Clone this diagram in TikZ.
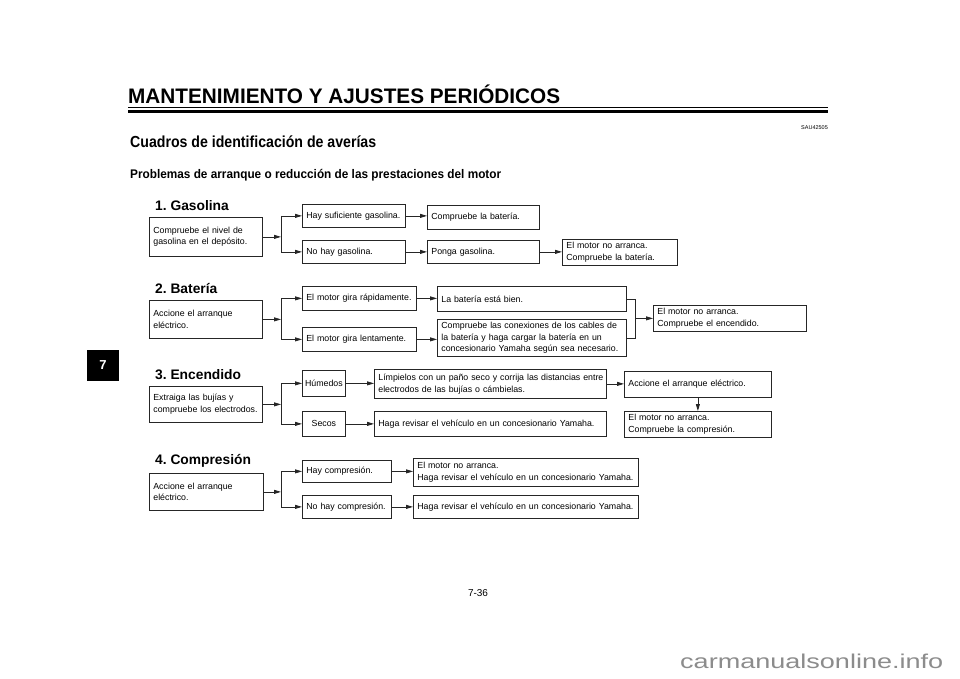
\documentclass[tikz,border=0pt]{standalone}
\usepackage{graphicx}
\usepackage{fontspec}
\setmainfont{Liberation Sans}
\usetikzlibrary{arrows.meta}
\newcommand{\bfnt}{\fontsize{8.8}{11.6}\selectfont}
\newcommand{\ml}[1]{\mbox{#1}}
\frenchspacing
\hyphenpenalty=10000
\begin{document}
\begin{tikzpicture}[x=1pt,y=-1pt,
  box/.style={draw=black!85, line width=0.75pt, anchor=north west, inner xsep=4pt, inner ysep=0pt, align=left, font=\bfnt},
  cbox/.style={box, inner xsep=2pt, align=center},
  ln/.style={draw=black!85, line width=0.75pt},
  arr/.style={ln, -{Triangle[length=7pt,width=4pt]}},
  sec/.style={anchor=base west, inner sep=0pt, font=\fontsize{13.8}{14}\selectfont\bfseries},
  hd/.style={anchor=base west, inner sep=0pt},
]
\fill[white] (0,0) rectangle (960,679);
\useasboundingbox (0,0) rectangle (960,679);

% header
\node[hd] (title) at (128,104) {\resizebox{432pt}{\height}{\fontsize{21}{21}\selectfont\bfseries MANTENIMIENTO Y AJUSTES PERIÓDICOS}};
\draw[line width=1pt] (128,107.5) -- (828,107.5);
\draw[line width=2.6pt] (128,111.3) -- (828,111.3);
\node[anchor=base east, inner sep=0pt, font=\fontsize{5.5}{6}\selectfont] (sau) at (828,130) {SAU42505};
\node[hd] (cuadros) at (130,148) {\resizebox{246pt}{\height}{\fontsize{16}{16}\selectfont\bfseries Cuadros de identificación de averías}};
\node[hd] (problemas) at (130,178) {\resizebox{371pt}{\height}{\fontsize{12.5}{12.5}\selectfont\bfseries Problemas de arranque o reducción de las prestaciones del motor}};

% tab and footer
\node[fill=black, minimum width=32pt, minimum height=31pt, inner sep=0pt, text=white, font=\fontsize{13}{13}\selectfont\bfseries] (tab) at (103,365.5) {7};
\node[font=\fontsize{10}{10}\selectfont, inner sep=0pt] (page) at (478,593.5) {7-36};
\node[hd, text=black!45] (wm) at (680,668) {\resizebox{263pt}{\height}{\fontsize{20}{20}\selectfont carmanualsonline.info}};

% ---------- 1. Gasolina
\node[sec] (s1) at (155,210) {1. Gasolina};
\node[box, text width=105pt, minimum height=39pt] (A) at (149,217) {\ml{Compruebe el nivel de}\\\ml{gasolina en el depósito.}};
\node[box, text width=95pt, minimum height=23pt] (B) at (302,204) {\ml{Hay suficiente gasolina.}};
\node[box, text width=95pt, minimum height=23pt] (C) at (302,240) {\ml{No hay gasolina.}};
\node[box, text width=104pt, minimum height=24pt] (D) at (427,205) {\ml{Compruebe la batería.}};
\node[box, text width=104pt, minimum height=23pt] (E) at (427,240) {\ml{Ponga gasolina.}};
\node[box, text width=107pt, minimum height=26pt] (F) at (562,239) {\ml{El motor no arranca.}\\\ml{Compruebe la batería.}};
\coordinate (b1) at (281,0);
\draw[arr] (A.east) -- (A.east -| b1);
\draw[ln] (b1 |- B.west) -- (b1 |- C.west);
\draw[arr] (b1 |- B.west) -- (B.west);
\draw[arr] (b1 |- C.west) -- (C.west);
\draw[arr] (B.east) -- (B.east -| D.west);
\draw[arr] (C.east) -- (C.east -| E.west);
\draw[arr] (E.east) -- (E.east -| F.west);

% ---------- 2. Bateria
\node[sec] (s2) at (155,293) {2. Batería};
\node[box, text width=105pt, minimum height=38pt] (G) at (149,300) {\ml{Accione el arranque}\\\ml{eléctrico.}};
\node[box, text width=106pt, minimum height=24pt] (H) at (302,286) {\ml{El motor gira rápidamente.}};
\node[box, text width=181pt, minimum height=25pt] (I) at (437,286) {\ml{La batería está bien.}};
\node[box, text width=106pt, minimum height=24pt] (J) at (302,327) {\ml{El motor gira lentamente.}};
\node[box, text width=181pt, minimum height=37pt] (K) at (437,319) {\ml{Compruebe las conexiones de los cables de}\\\ml{la batería y haga cargar la batería en un}\\\ml{concesionario Yamaha según sea necesario.}};
\node[box, text width=145pt, minimum height=26pt] (L) at (653,305) {\ml{El motor no arranca.}\\\ml{Compruebe el encendido.}};
\coordinate (b2) at (281,0);
\coordinate (m2) at (635,0);
\draw[arr] (G.east) -- (G.east -| b2);
\draw[ln] (b2 |- H.west) -- (b2 |- J.west);
\draw[arr] (b2 |- H.west) -- (H.west);
\draw[arr] (b2 |- J.west) -- (J.west);
\draw[arr] (H.east) -- (H.east -| I.west);
\draw[arr] (J.east) -- (J.east -| K.west);
\draw[ln] (I.east) -- (I.east -| m2) -- (K.east -| m2) -- (K.east);
\draw[arr] (m2 |- L.west) -- (L.west);

% ---------- 3. Encendido
\node[sec] (s3) at (155,379) {3. Encendido};
\node[box, text width=105pt, minimum height=36pt] (M) at (149,386) {\ml{Extraiga las bujías y}\\\ml{compruebe los electrodos.}};
\node[cbox, text width=39pt, minimum height=26pt] (N) at (302,370) {\ml{Húmedos}};
\node[cbox, text width=39pt, minimum height=25pt] (O) at (302,411) {\ml{Secos}};
\node[box, text width=224pt, minimum height=29pt] (P) at (374,369) {\ml{Límpielos con un paño seco y corrija las distancias entre}\\\ml{electrodos de las bujías o cámbielas.}};
\node[box, text width=224pt, minimum height=25pt] (S) at (374,411) {\ml{Haga revisar el vehículo en un concesionario Yamaha.}};
\node[box, text width=139pt, minimum height=26pt] (Q) at (624,371) {\ml{Accione el arranque eléctrico.}};
\node[box, text width=139pt, minimum height=26pt] (R) at (624,411) {\ml{El motor no arranca.}\\\ml{Compruebe la compresión.}};
\coordinate (b3) at (281,0);
\draw[arr] (M.east) -- (M.east -| b3);
\draw[ln] (b3 |- N.west) -- (b3 |- O.west);
\draw[arr] (b3 |- N.west) -- (N.west);
\draw[arr] (b3 |- O.west) -- (O.west);
\draw[arr] (N.east) -- (N.east -| P.west);
\draw[arr] (O.east) -- (O.east -| S.west);
\draw[arr] (P.east) -- (P.east -| Q.west);
\draw[arr] (Q.south) -- (R.north);

% ---------- 4. Compresion
\node[sec] (s4) at (155,464) {4. Compresión};
\node[box, text width=106pt, minimum height=37pt] (T) at (149,473) {\ml{Accione el arranque}\\\ml{eléctrico.}};
\node[box, text width=81pt, minimum height=22pt] (U) at (302,460) {\ml{Hay compresión.}};
\node[box, text width=81pt, minimum height=23pt] (V) at (302,495) {\ml{No hay compresión.}};
\node[box, text width=217pt, minimum height=28pt] (W) at (413,458) {\ml{El motor no arranca.}\\\ml{Haga revisar el vehículo en un concesionario Yamaha.}};
\node[box, text width=217pt, minimum height=23pt] (X) at (413,495) {\ml{Haga revisar el vehículo en un concesionario Yamaha.}};
\coordinate (b4) at (281,0);
\draw[arr] (T.east) -- (T.east -| b4);
\draw[ln] (b4 |- U.west) -- (b4 |- V.west);
\draw[arr] (b4 |- U.west) -- (U.west);
\draw[arr] (b4 |- V.west) -- (V.west);
\draw[arr] (U.east) -- (U.east -| W.west);
\draw[arr] (V.east) -- (V.east -| X.west);
\end{tikzpicture}
\end{document}
